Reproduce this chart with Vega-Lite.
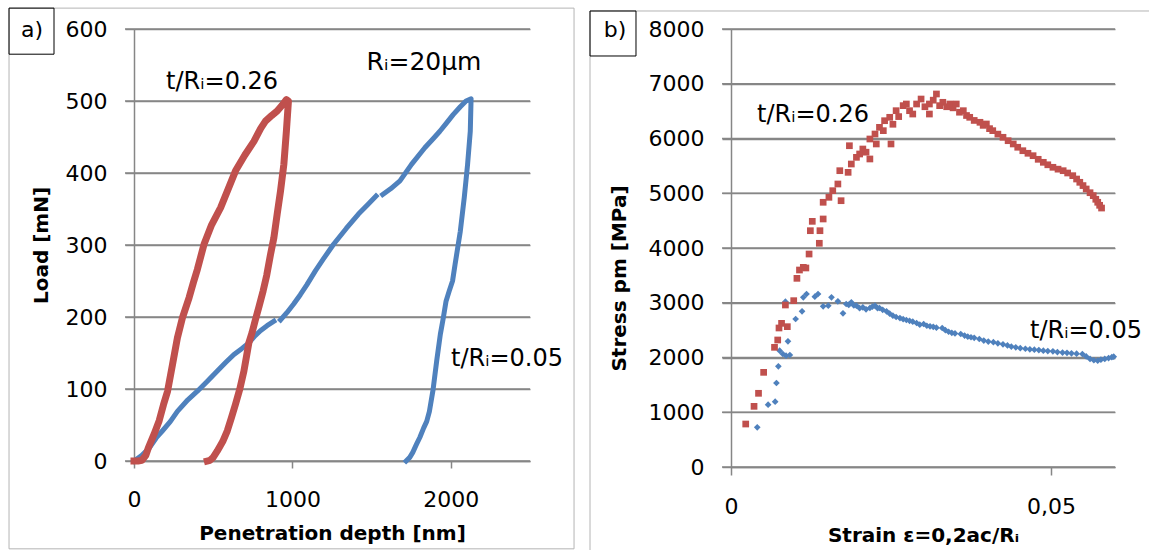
{
  "$schema": "https://vega.github.io/schema/vega-lite/v6.json",
  "background": "white",
  "padding": {"left": 8, "top": 7, "right": 0, "bottom": 0},
  "spacing": 14,
  "config": {
    "view": {"stroke": null},
    "axis": {
      "labelFont": "DejaVu Sans", "labelFontSize": 22, "labelColor": "#000000", "labelFlush": false, "labelOverlap": false,
      "titleFont": "DejaVu Sans", "titleFontSize": 20, "titleFontWeight": "bold", "titleColor": "#000000",
      "domainColor": "#868686", "domainWidth": 1.5, "tickColor": "#868686", "tickWidth": 1.5,
      "gridColor": "#868686", "gridWidth": 1.5, "gridOpacity": 1
    },
    "text": {"font": "DejaVu Sans", "color": "#000000"}
  },
  "datasets": {
    "loadgrid": [{"v":0},{"v":100},{"v":200},{"v":300},{"v":400},{"v":500},{"v":600}],
    "stressgrid": [{"v":0},{"v":1000},{"v":2000},{"v":3000},{"v":4000},{"v":5000},{"v":6000},{"v":7000},{"v":8000}],
    "depth": [
      {"sample":"0.05","seg":"b1","i":1,"depth":0,"load":0},
      {"sample":"0.05","seg":"b1","i":2,"depth":50,"load":8},
      {"sample":"0.05","seg":"b1","i":3,"depth":96,"load":18},
      {"sample":"0.05","seg":"b1","i":4,"depth":140,"load":32},
      {"sample":"0.05","seg":"b1","i":5,"depth":180,"load":42},
      {"sample":"0.05","seg":"b1","i":6,"depth":230,"load":55},
      {"sample":"0.05","seg":"b1","i":7,"depth":274,"load":69},
      {"sample":"0.05","seg":"b1","i":8,"depth":340,"load":85},
      {"sample":"0.05","seg":"b1","i":9,"depth":400,"load":97},
      {"sample":"0.05","seg":"b1","i":10,"depth":460,"load":110},
      {"sample":"0.05","seg":"b1","i":11,"depth":526,"load":125},
      {"sample":"0.05","seg":"b1","i":12,"depth":580,"load":137},
      {"sample":"0.05","seg":"b1","i":13,"depth":631,"load":148},
      {"sample":"0.05","seg":"b1","i":14,"depth":680,"load":156},
      {"sample":"0.05","seg":"b1","i":15,"depth":725,"load":164},
      {"sample":"0.05","seg":"b1","i":16,"depth":765,"load":174},
      {"sample":"0.05","seg":"b1","i":17,"depth":798,"load":181},
      {"sample":"0.05","seg":"b1","i":18,"depth":840,"load":188},
      {"sample":"0.05","seg":"b1","i":19,"depth":883,"load":194},
      {"sample":"0.05","seg":"b2","i":20,"depth":925,"load":196},
      {"sample":"0.05","seg":"b2","i":21,"depth":965,"load":206},
      {"sample":"0.05","seg":"b2","i":22,"depth":1008,"load":218},
      {"sample":"0.05","seg":"b2","i":23,"depth":1050,"load":231},
      {"sample":"0.05","seg":"b2","i":24,"depth":1092,"load":245},
      {"sample":"0.05","seg":"b2","i":25,"depth":1145,"load":264},
      {"sample":"0.05","seg":"b2","i":26,"depth":1200,"load":282},
      {"sample":"0.05","seg":"b2","i":27,"depth":1260,"load":301},
      {"sample":"0.05","seg":"b2","i":28,"depth":1340,"load":323},
      {"sample":"0.05","seg":"b2","i":29,"depth":1417,"load":343},
      {"sample":"0.05","seg":"b2","i":30,"depth":1475,"load":356},
      {"sample":"0.05","seg":"b2","i":31,"depth":1528,"load":368},
      {"sample":"0.05","seg":"b3","i":32,"depth":1570,"load":370},
      {"sample":"0.05","seg":"b3","i":33,"depth":1620,"load":378},
      {"sample":"0.05","seg":"b3","i":34,"depth":1679,"load":389},
      {"sample":"0.05","seg":"b3","i":35,"depth":1752,"load":412},
      {"sample":"0.05","seg":"b3","i":36,"depth":1836,"load":435},
      {"sample":"0.05","seg":"b3","i":37,"depth":1890,"load":448},
      {"sample":"0.05","seg":"b3","i":38,"depth":1931,"load":458},
      {"sample":"0.05","seg":"b3","i":39,"depth":1975,"load":470},
      {"sample":"0.05","seg":"b3","i":40,"depth":2015,"load":481},
      {"sample":"0.05","seg":"b3","i":41,"depth":2060,"load":492},
      {"sample":"0.05","seg":"b3","i":42,"depth":2096,"load":500},
      {"sample":"0.05","seg":"b3","i":43,"depth":2128,"load":503},
      {"sample":"0.05","seg":"b3","i":44,"depth":2123,"load":458},
      {"sample":"0.05","seg":"b3","i":45,"depth":2106,"load":412},
      {"sample":"0.05","seg":"b3","i":46,"depth":2085,"load":366},
      {"sample":"0.05","seg":"b3","i":47,"depth":2060,"load":319},
      {"sample":"0.05","seg":"b3","i":48,"depth":2027,"load":273},
      {"sample":"0.05","seg":"b3","i":49,"depth":2011,"load":250},
      {"sample":"0.05","seg":"b3","i":50,"depth":1990,"load":236},
      {"sample":"0.05","seg":"b3","i":51,"depth":1970,"load":222},
      {"sample":"0.05","seg":"b3","i":52,"depth":1953,"load":199},
      {"sample":"0.05","seg":"b3","i":53,"depth":1934,"load":176},
      {"sample":"0.05","seg":"b3","i":54,"depth":1911,"load":139},
      {"sample":"0.05","seg":"b3","i":55,"depth":1888,"load":99},
      {"sample":"0.05","seg":"b3","i":56,"depth":1865,"load":69},
      {"sample":"0.05","seg":"b3","i":57,"depth":1848,"load":55},
      {"sample":"0.05","seg":"b3","i":58,"depth":1829,"load":46},
      {"sample":"0.05","seg":"b3","i":59,"depth":1805,"load":33},
      {"sample":"0.05","seg":"b3","i":60,"depth":1783,"load":23},
      {"sample":"0.05","seg":"b3","i":61,"depth":1760,"load":12},
      {"sample":"0.05","seg":"b3","i":62,"depth":1741,"load":5},
      {"sample":"0.05","seg":"b3","i":63,"depth":1718,"load":0},
      {"sample":"0.26","seg":"r","i":64,"depth":0,"load":0},
      {"sample":"0.26","seg":"r","i":65,"depth":25,"load":0},
      {"sample":"0.26","seg":"r","i":66,"depth":50,"load":1},
      {"sample":"0.26","seg":"r","i":67,"depth":75,"load":8},
      {"sample":"0.26","seg":"r","i":68,"depth":90,"load":18},
      {"sample":"0.26","seg":"r","i":69,"depth":128,"load":38},
      {"sample":"0.26","seg":"r","i":70,"depth":159,"load":56},
      {"sample":"0.26","seg":"r","i":71,"depth":186,"load":78},
      {"sample":"0.26","seg":"r","i":72,"depth":212,"load":97},
      {"sample":"0.26","seg":"r","i":73,"depth":243,"load":134},
      {"sample":"0.26","seg":"r","i":74,"depth":274,"load":171},
      {"sample":"0.26","seg":"r","i":75,"depth":306,"load":199},
      {"sample":"0.26","seg":"r","i":76,"depth":348,"load":227},
      {"sample":"0.26","seg":"r","i":77,"depth":375,"load":248},
      {"sample":"0.26","seg":"r","i":78,"depth":400,"load":266},
      {"sample":"0.26","seg":"r","i":79,"depth":442,"load":301},
      {"sample":"0.26","seg":"r","i":80,"depth":490,"load":328},
      {"sample":"0.26","seg":"r","i":81,"depth":547,"load":352},
      {"sample":"0.26","seg":"r","i":82,"depth":595,"load":378},
      {"sample":"0.26","seg":"r","i":83,"depth":641,"load":403},
      {"sample":"0.26","seg":"r","i":84,"depth":700,"load":425},
      {"sample":"0.26","seg":"r","i":85,"depth":757,"load":444},
      {"sample":"0.26","seg":"r","i":86,"depth":800,"load":462},
      {"sample":"0.26","seg":"r","i":87,"depth":830,"load":472},
      {"sample":"0.26","seg":"r","i":88,"depth":870,"load":480},
      {"sample":"0.26","seg":"r","i":89,"depth":904,"load":486},
      {"sample":"0.26","seg":"r","i":90,"depth":935,"load":494},
      {"sample":"0.26","seg":"r","i":91,"depth":962,"load":502},
      {"sample":"0.26","seg":"r","i":92,"depth":975,"load":500},
      {"sample":"0.26","seg":"r","i":93,"depth":962,"load":458},
      {"sample":"0.26","seg":"r","i":94,"depth":946,"load":412},
      {"sample":"0.26","seg":"r","i":95,"depth":925,"load":375},
      {"sample":"0.26","seg":"r","i":96,"depth":904,"load":343},
      {"sample":"0.26","seg":"r","i":97,"depth":883,"load":310},
      {"sample":"0.26","seg":"r","i":98,"depth":862,"load":287},
      {"sample":"0.26","seg":"r","i":99,"depth":838,"load":258},
      {"sample":"0.26","seg":"r","i":100,"depth":815,"load":236},
      {"sample":"0.26","seg":"r","i":101,"depth":790,"load":215},
      {"sample":"0.26","seg":"r","i":102,"depth":765,"load":195},
      {"sample":"0.26","seg":"r","i":103,"depth":745,"load":178},
      {"sample":"0.26","seg":"r","i":104,"depth":725,"load":164},
      {"sample":"0.26","seg":"r","i":105,"depth":710,"load":145},
      {"sample":"0.26","seg":"r","i":106,"depth":694,"load":125},
      {"sample":"0.26","seg":"r","i":107,"depth":668,"load":100},
      {"sample":"0.26","seg":"r","i":108,"depth":641,"load":79},
      {"sample":"0.26","seg":"r","i":109,"depth":615,"load":60},
      {"sample":"0.26","seg":"r","i":110,"depth":589,"load":42},
      {"sample":"0.26","seg":"r","i":111,"depth":560,"load":27},
      {"sample":"0.26","seg":"r","i":112,"depth":526,"load":14},
      {"sample":"0.26","seg":"r","i":113,"depth":500,"load":5},
      {"sample":"0.26","seg":"r","i":114,"depth":480,"load":1},
      {"sample":"0.26","seg":"r","i":115,"depth":463,"load":0}
    ],
    "strain": [
      {"sample":"0.05","strain":0.0041,"stress":725},
      {"sample":"0.05","strain":0.0058,"stress":1138},
      {"sample":"0.05","strain":0.0069,"stress":1193},
      {"sample":"0.05","strain":0.0071,"stress":1534},
      {"sample":"0.05","strain":0.0074,"stress":1839},
      {"sample":"0.05","strain":0.0076,"stress":2124},
      {"sample":"0.05","strain":0.0081,"stress":2064},
      {"sample":"0.05","strain":0.0086,"stress":2033},
      {"sample":"0.05","strain":0.0092,"stress":2046},
      {"sample":"0.05","strain":0.0089,"stress":2296},
      {"sample":"0.05","strain":0.0085,"stress":3020},
      {"sample":"0.05","strain":0.0101,"stress":2703},
      {"sample":"0.05","strain":0.0111,"stress":2844},
      {"sample":"0.05","strain":0.0113,"stress":3099},
      {"sample":"0.05","strain":0.0118,"stress":3160},
      {"sample":"0.05","strain":0.0131,"stress":3111},
      {"sample":"0.05","strain":0.0136,"stress":3160},
      {"sample":"0.05","strain":0.0144,"stress":2935},
      {"sample":"0.05","strain":0.0152,"stress":2947},
      {"sample":"0.05","strain":0.0157,"stress":3099},
      {"sample":"0.05","strain":0.0167,"stress":3026},
      {"sample":"0.05","strain":0.0175,"stress":2807},
      {"sample":"0.05","strain":0.018,"stress":2977},
      {"sample":"0.05","strain":0.0184,"stress":2960},
      {"sample":"0.05","strain":0.0188,"stress":3008},
      {"sample":"0.05","strain":0.0192,"stress":2950},
      {"sample":"0.05","strain":0.0196,"stress":2947},
      {"sample":"0.05","strain":0.0201,"stress":2900},
      {"sample":"0.05","strain":0.0206,"stress":2917},
      {"sample":"0.05","strain":0.0211,"stress":2880},
      {"sample":"0.05","strain":0.0217,"stress":2904},
      {"sample":"0.05","strain":0.0221,"stress":2930},
      {"sample":"0.05","strain":0.0225,"stress":2947},
      {"sample":"0.05","strain":0.0229,"stress":2900},
      {"sample":"0.05","strain":0.0232,"stress":2904},
      {"sample":"0.05","strain":0.0237,"stress":2870},
      {"sample":"0.05","strain":0.0243,"stress":2844},
      {"sample":"0.05","strain":0.0248,"stress":2800},
      {"sample":"0.05","strain":0.0253,"stress":2764},
      {"sample":"0.05","strain":0.0258,"stress":2740},
      {"sample":"0.05","strain":0.0264,"stress":2721},
      {"sample":"0.05","strain":0.0269,"stress":2700},
      {"sample":"0.05","strain":0.0274,"stress":2685},
      {"sample":"0.05","strain":0.0279,"stress":2670},
      {"sample":"0.05","strain":0.0284,"stress":2654},
      {"sample":"0.05","strain":0.029,"stress":2630},
      {"sample":"0.05","strain":0.0295,"stress":2600},
      {"sample":"0.05","strain":0.0301,"stress":2612},
      {"sample":"0.05","strain":0.0306,"stress":2580},
      {"sample":"0.05","strain":0.0311,"stress":2570},
      {"sample":"0.05","strain":0.0316,"stress":2560},
      {"sample":"0.05","strain":0.0321,"stress":2545},
      {"sample":"0.05","strain":0.033,"stress":2539},
      {"sample":"0.05","strain":0.0335,"stress":2500},
      {"sample":"0.05","strain":0.034,"stress":2470},
      {"sample":"0.05","strain":0.0345,"stress":2450},
      {"sample":"0.05","strain":0.035,"stress":2440},
      {"sample":"0.05","strain":0.0359,"stress":2429},
      {"sample":"0.05","strain":0.0365,"stress":2400},
      {"sample":"0.05","strain":0.037,"stress":2380},
      {"sample":"0.05","strain":0.0375,"stress":2370},
      {"sample":"0.05","strain":0.038,"stress":2360},
      {"sample":"0.05","strain":0.0388,"stress":2338},
      {"sample":"0.05","strain":0.0395,"stress":2310},
      {"sample":"0.05","strain":0.0402,"stress":2290},
      {"sample":"0.05","strain":0.041,"stress":2280},
      {"sample":"0.05","strain":0.0417,"stress":2259},
      {"sample":"0.05","strain":0.0425,"stress":2240},
      {"sample":"0.05","strain":0.0432,"stress":2220},
      {"sample":"0.05","strain":0.0438,"stress":2200},
      {"sample":"0.05","strain":0.0445,"stress":2186},
      {"sample":"0.05","strain":0.0452,"stress":2170},
      {"sample":"0.05","strain":0.046,"stress":2160},
      {"sample":"0.05","strain":0.0467,"stress":2150},
      {"sample":"0.05","strain":0.0474,"stress":2143},
      {"sample":"0.05","strain":0.0481,"stress":2135},
      {"sample":"0.05","strain":0.0488,"stress":2125},
      {"sample":"0.05","strain":0.0495,"stress":2118},
      {"sample":"0.05","strain":0.0503,"stress":2113},
      {"sample":"0.05","strain":0.051,"stress":2100},
      {"sample":"0.05","strain":0.0518,"stress":2090},
      {"sample":"0.05","strain":0.0525,"stress":2085},
      {"sample":"0.05","strain":0.0532,"stress":2076},
      {"sample":"0.05","strain":0.054,"stress":2070},
      {"sample":"0.05","strain":0.0549,"stress":2064},
      {"sample":"0.05","strain":0.0555,"stress":2020},
      {"sample":"0.05","strain":0.0561,"stress":1973},
      {"sample":"0.05","strain":0.0567,"stress":1950},
      {"sample":"0.05","strain":0.0573,"stress":1942},
      {"sample":"0.05","strain":0.0578,"stress":1960},
      {"sample":"0.05","strain":0.0584,"stress":1973},
      {"sample":"0.05","strain":0.059,"stress":1990},
      {"sample":"0.05","strain":0.0595,"stress":2005},
      {"sample":"0.05","strain":0.0598,"stress":2015},
      {"sample":"0.26","strain":0.0023,"stress":785},
      {"sample":"0.26","strain":0.0036,"stress":1108},
      {"sample":"0.26","strain":0.0043,"stress":1346},
      {"sample":"0.26","strain":0.0051,"stress":1729},
      {"sample":"0.26","strain":0.0068,"stress":2186},
      {"sample":"0.26","strain":0.0073,"stress":2320},
      {"sample":"0.26","strain":0.0075,"stress":2539},
      {"sample":"0.26","strain":0.0079,"stress":2624},
      {"sample":"0.26","strain":0.0088,"stress":2563},
      {"sample":"0.26","strain":0.0085,"stress":2959},
      {"sample":"0.26","strain":0.0098,"stress":3038},
      {"sample":"0.26","strain":0.0103,"stress":3446},
      {"sample":"0.26","strain":0.0107,"stress":3598},
      {"sample":"0.26","strain":0.0117,"stress":3635},
      {"sample":"0.26","strain":0.0113,"stress":3647},
      {"sample":"0.26","strain":0.0122,"stress":3890},
      {"sample":"0.26","strain":0.0138,"stress":4086},
      {"sample":"0.26","strain":0.0124,"stress":4316},
      {"sample":"0.26","strain":0.0139,"stress":4316},
      {"sample":"0.26","strain":0.0127,"stress":4487},
      {"sample":"0.26","strain":0.0144,"stress":4530},
      {"sample":"0.26","strain":0.0144,"stress":4835},
      {"sample":"0.26","strain":0.0153,"stress":4926},
      {"sample":"0.26","strain":0.0172,"stress":4864},
      {"sample":"0.26","strain":0.0159,"stress":5047},
      {"sample":"0.26","strain":0.0167,"stress":5169},
      {"sample":"0.26","strain":0.017,"stress":5412},
      {"sample":"0.26","strain":0.0183,"stress":5382},
      {"sample":"0.26","strain":0.0188,"stress":5534},
      {"sample":"0.26","strain":0.0185,"stress":5868},
      {"sample":"0.26","strain":0.0196,"stress":5656},
      {"sample":"0.26","strain":0.0201,"stress":5717},
      {"sample":"0.26","strain":0.0206,"stress":5808},
      {"sample":"0.26","strain":0.0217,"stress":5626},
      {"sample":"0.26","strain":0.0217,"stress":5991},
      {"sample":"0.26","strain":0.0211,"stress":5750},
      {"sample":"0.26","strain":0.0225,"stress":6082},
      {"sample":"0.26","strain":0.0227,"stress":5900},
      {"sample":"0.26","strain":0.0232,"stress":6204},
      {"sample":"0.26","strain":0.0238,"stress":6143},
      {"sample":"0.26","strain":0.024,"stress":6325},
      {"sample":"0.26","strain":0.025,"stress":5900},
      {"sample":"0.26","strain":0.0248,"stress":6387},
      {"sample":"0.26","strain":0.0253,"stress":6260},
      {"sample":"0.26","strain":0.0258,"stress":6508},
      {"sample":"0.26","strain":0.0262,"stress":6400},
      {"sample":"0.26","strain":0.0269,"stress":6600},
      {"sample":"0.26","strain":0.0274,"stress":6630},
      {"sample":"0.26","strain":0.0279,"stress":6508},
      {"sample":"0.26","strain":0.0284,"stress":6447},
      {"sample":"0.26","strain":0.029,"stress":6630},
      {"sample":"0.26","strain":0.0297,"stress":6721},
      {"sample":"0.26","strain":0.0303,"stress":6580},
      {"sample":"0.26","strain":0.031,"stress":6630},
      {"sample":"0.26","strain":0.031,"stress":6447},
      {"sample":"0.26","strain":0.0316,"stress":6700},
      {"sample":"0.26","strain":0.0321,"stress":6813},
      {"sample":"0.26","strain":0.0326,"stress":6600},
      {"sample":"0.26","strain":0.0331,"stress":6661},
      {"sample":"0.26","strain":0.0337,"stress":6580},
      {"sample":"0.26","strain":0.0342,"stress":6630},
      {"sample":"0.26","strain":0.0347,"stress":6560},
      {"sample":"0.26","strain":0.0352,"stress":6630},
      {"sample":"0.26","strain":0.0357,"stress":6480},
      {"sample":"0.26","strain":0.0363,"stress":6508},
      {"sample":"0.26","strain":0.0368,"stress":6420},
      {"sample":"0.26","strain":0.0373,"stress":6387},
      {"sample":"0.26","strain":0.038,"stress":6330},
      {"sample":"0.26","strain":0.0389,"stress":6296},
      {"sample":"0.26","strain":0.0394,"stress":6240},
      {"sample":"0.26","strain":0.0399,"stress":6265},
      {"sample":"0.26","strain":0.0404,"stress":6180},
      {"sample":"0.26","strain":0.0409,"stress":6143},
      {"sample":"0.26","strain":0.0417,"stress":6080},
      {"sample":"0.26","strain":0.0425,"stress":6022},
      {"sample":"0.26","strain":0.0433,"stress":5960},
      {"sample":"0.26","strain":0.0441,"stress":5900},
      {"sample":"0.26","strain":0.0448,"stress":5840},
      {"sample":"0.26","strain":0.0456,"stress":5777},
      {"sample":"0.26","strain":0.0464,"stress":5730},
      {"sample":"0.26","strain":0.0472,"stress":5686},
      {"sample":"0.26","strain":0.048,"stress":5620},
      {"sample":"0.26","strain":0.0488,"stress":5565},
      {"sample":"0.26","strain":0.0495,"stress":5520},
      {"sample":"0.26","strain":0.0503,"stress":5474},
      {"sample":"0.26","strain":0.0511,"stress":5440},
      {"sample":"0.26","strain":0.0519,"stress":5412},
      {"sample":"0.26","strain":0.0526,"stress":5370},
      {"sample":"0.26","strain":0.0534,"stress":5321},
      {"sample":"0.26","strain":0.054,"stress":5260},
      {"sample":"0.26","strain":0.0545,"stress":5200},
      {"sample":"0.26","strain":0.055,"stress":5140},
      {"sample":"0.26","strain":0.0555,"stress":5078},
      {"sample":"0.26","strain":0.0561,"stress":5010},
      {"sample":"0.26","strain":0.0566,"stress":4956},
      {"sample":"0.26","strain":0.057,"stress":4890},
      {"sample":"0.26","strain":0.0573,"stress":4835},
      {"sample":"0.26","strain":0.0576,"stress":4780},
      {"sample":"0.26","strain":0.0579,"stress":4730}
    ]
  },
  "hconcat": [
    {
      "width": 396,
      "height": 432,
      "layer": [
        {
          "data": {"name": "loadgrid"},
          "mark": {"type": "rule", "color": "#868686", "strokeWidth": 1.5, "clip": false},
          "encoding": {"y": {"field": "v", "type": "quantitative"}, "x": {"datum": -57}, "x2": {"datum": 2500}}
        },
        {
          "data": {"name": "depth"},
          "mark": {"type": "line", "strokeCap": "square", "strokeJoin": "round"},
          "encoding": {
            "x": {"field": "depth", "type": "quantitative", "scale": {"domain": [0, 2500], "nice": false, "zero": false},
                  "axis": {"title": "Penetration depth [nm]", "values": [0, 1000, 2000], "format": "d", "grid": false, "tickSize": 7, "labelPadding": 21, "titlePadding": 13}},
            "y": {"field": "load", "type": "quantitative", "scale": {"domain": [0, 600], "nice": false, "zero": false},
                  "axis": {"title": "Load [mN]", "values": [0, 100, 200, 300, 400, 500, 600], "format": "d", "grid": true, "tickSize": 9, "labelPadding": 18, "titlePadding": 14}},
            "color": {"field": "sample", "type": "nominal", "scale": {"domain": ["0.05", "0.26"], "range": ["#4F81BD", "#C0504D"]}, "legend": null},
            "size": {"field": "sample", "type": "nominal", "scale": {"domain": ["0.05", "0.26"], "range": [5, 7]}, "legend": null},
            "detail": {"field": "seg"},
            "order": {"field": "i", "type": "quantitative"}
          }
        },
        {
          "data": {"values": [{}]},
          "mark": {"type": "rect", "fill": null, "stroke": "#b4b4b4", "strokeWidth": 1, "clip": false},
          "encoding": {"x": {"datum": -789}, "x2": {"datum": 2778}, "y": {"datum": 629}, "y2": {"datum": -122}}
        },
        {
          "data": {"values": [{}]},
          "mark": {"type": "rect", "fill": null, "stroke": "#000000", "strokeWidth": 1, "clip": false},
          "encoding": {"x": {"datum": -789}, "x2": {"datum": -505}, "y": {"datum": 629}, "y2": {"datum": 565}}
        },
        {
          "data": {"values": [{}]},
          "mark": {"type": "text", "fontSize": 22, "align": "center", "baseline": "middle", "clip": false},
          "encoding": {"x": {"datum": -644}, "y": {"datum": 599}, "text": {"value": "a)"}}
        },
        {
          "data": {"values": [{}]},
          "mark": {"type": "text", "fontSize": 24, "align": "center", "baseline": "middle", "clip": false},
          "encoding": {"x": {"datum": 556}, "y": {"datum": 526}, "text": {"value": "t/Rᵢ=0.26"}}
        },
        {
          "data": {"values": [{}]},
          "mark": {"type": "text", "fontSize": 25, "align": "center", "baseline": "middle", "clip": false},
          "encoding": {"x": {"datum": 1831}, "y": {"datum": 554}, "text": {"value": "Rᵢ=20μm"}}
        },
        {
          "data": {"values": [{}]},
          "mark": {"type": "text", "fontSize": 24, "align": "center", "baseline": "middle", "clip": false},
          "encoding": {"x": {"datum": 2355}, "y": {"datum": 142}, "text": {"value": "t/Rᵢ=0.05"}}
        }
      ]
    },
    {
      "width": 384,
      "height": 438,
      "layer": [
        {
          "data": {"name": "stressgrid"},
          "mark": {"type": "rule", "color": "#868686", "strokeWidth": 1.5, "clip": false},
          "encoding": {"y": {"field": "v", "type": "quantitative"}, "x": {"datum": -0.0014}, "x2": {"datum": 0.06}}
        },
        {
          "data": {"name": "strain"},
          "mark": {"type": "point", "filled": true, "opacity": 1, "size": 45},
          "encoding": {
            "x": {"field": "strain", "type": "quantitative", "scale": {"domain": [0, 0.06], "nice": false, "zero": false},
                  "axis": {"title": "Strain ε=0,2aᴄ/Rᵢ", "values": [0, 0.05], "grid": false, "tickSize": 8, "labelPadding": 21, "titlePadding": 8,
                           "labelExpr": "datum.value == 0 ? '0' : replace(format(datum.value, '.2f'), '.', ',')"}},
            "y": {"field": "stress", "type": "quantitative", "scale": {"domain": [0, 8000], "nice": false, "zero": false},
                  "axis": {"title": "Stress pm [MPa]", "values": [0, 1000, 2000, 3000, 4000, 5000, 6000, 7000, 8000], "format": "d", "grid": true, "tickSize": 9, "labelPadding": 18, "titlePadding": 19, "titleY": 249}},
            "color": {"field": "sample", "type": "nominal", "scale": {"domain": ["0.05", "0.26"], "range": ["#4F81BD", "#C0504D"]}, "legend": null},
            "shape": {"field": "sample", "type": "nominal", "scale": {"domain": ["0.05", "0.26"], "range": ["diamond", "square"]}, "legend": null}
          }
        },
        {
          "data": {"values": [{}]},
          "mark": {"type": "rect", "fill": null, "stroke": "#b4b4b4", "strokeWidth": 1, "clip": false},
          "encoding": {"x": {"datum": -0.02203}, "x2": {"datum": 0.065625}, "y": {"datum": 8329}, "y2": {"datum": -1553}}
        },
        {
          "data": {"values": [{}]},
          "mark": {"type": "rect", "fill": null, "stroke": "#000000", "strokeWidth": 1, "clip": false},
          "encoding": {"x": {"datum": -0.02203}, "x2": {"datum": -0.014844}, "y": {"datum": 8329}, "y2": {"datum": 7507}}
        },
        {
          "data": {"values": [{}]},
          "mark": {"type": "text", "fontSize": 22, "align": "center", "baseline": "middle", "clip": false},
          "encoding": {"x": {"datum": -0.018125}, "y": {"datum": 7982}, "text": {"value": "b)"}}
        },
        {
          "data": {"values": [{}]},
          "mark": {"type": "text", "fontSize": 24, "align": "center", "baseline": "middle", "clip": false},
          "encoding": {"x": {"datum": 0.01281}, "y": {"datum": 6429}, "text": {"value": "t/Rᵢ=0.26"}}
        },
        {
          "data": {"values": [{}]},
          "mark": {"type": "text", "fontSize": 24, "align": "center", "baseline": "middle", "clip": false},
          "encoding": {"x": {"datum": 0.05547}, "y": {"datum": 2484}, "text": {"value": "t/Rᵢ=0.05"}}
        }
      ]
    }
  ]
}
